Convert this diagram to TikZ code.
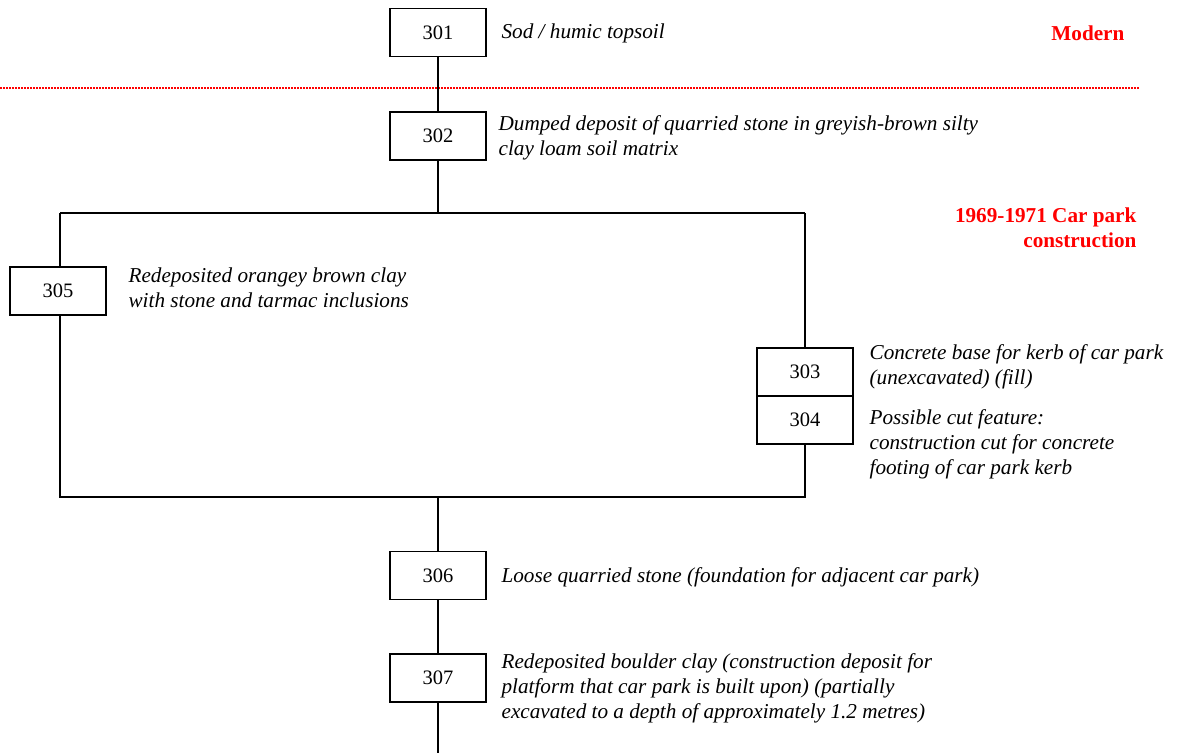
\documentclass[tikz,border=0pt]{standalone}
\usepackage{fontspec}
\setmainfont{Liberation Serif}

\tikzset{
  ctx/.style={draw, rectangle, line width=1.2pt, minimum width=96pt, minimum height=48pt, inner sep=0pt, font=\fontsize{20.5}{25}\selectfont},
  desc/.style={anchor=west, align=left, inner sep=0pt, font=\fontsize{21.2}{25}\selectfont\itshape},
  phase/.style={anchor=east, align=right, inner sep=0pt, text=red, font=\fontsize{21.2}{25}\selectfont\bfseries}
}

\begin{document}
\begin{tikzpicture}[x=1pt, y=-1pt, line width=1.2pt]
\useasboundingbox (0,0) rectangle (1185,753);

% Phase divider
\coordinate (divl) at (0,88);
\coordinate (divr) at (1140,88);
\draw[red, line width=1.6pt, dash pattern=on 1.5pt off 1.5pt] (divl) -- (divr);

% Phases
\node[phase] (modern) at (1125,33.5) {Modern};
\node[phase] (carpark) at (1137,227.5) {1969-1971 Car park\\construction};

% Contexts
\node[ctx] (n301) at (438,32.5) {301};
\node[ctx] (n302) at (438,136) {302};
\node[ctx] (n305) at (58,291) {305};
\node[ctx] (n303) at (805,372) {303};
\node[ctx] (n304) at (805,420) {304};
\node[ctx] (n306) at (438,575.5) {306};
\node[ctx] (n307) at (438,678) {307};

% Descriptions
\node[desc] (d301) at (501,33.5) {Sod / humic topsoil};
\node[desc] (d302) at (498,138) {Dumped deposit of quarried stone in greyish-brown silty\\clay loam soil matrix};
\node[desc] (d305) at (128,288) {Redeposited orangey brown clay\\with stone and tarmac inclusions};
\node[desc] (d303) at (869,367) {Concrete base for kerb of car park\\(unexcavated) (fill)};
\node[desc] (d304) at (869,444.5) {Possible cut feature:\\construction cut for concrete\\footing of car park kerb};
\node[desc] (d306) at (501,577) {Loose quarried stone (foundation for adjacent car park)};
\node[desc] (d307) at (501,688) {Redeposited boulder clay (construction deposit for\\platform that car park is built upon) (partially\\excavated to a depth of approximately 1.2 metres)};

% Frame corners
\coordinate (tl) at (60,213);
\coordinate (tr) at (805,213);
\coordinate (bl) at (60,497);
\coordinate (br) at (805,497);
\coordinate (bottom) at (438,753);

% Lines
\draw (n301) -- (n302);
\draw (n302) -- (n302 |- tl);
\draw (tl) -- (tr);
\draw (tl) -- (tl |- n305.north);
\draw (tr) -- (n303);
\draw (bl |- n305.south) -- (bl) -- (br) -- (n304);
\draw (n306 |- bl) -- (n306);
\draw (n306) -- (n307);
\draw (n307) -- (bottom);
\end{tikzpicture}
\end{document}
